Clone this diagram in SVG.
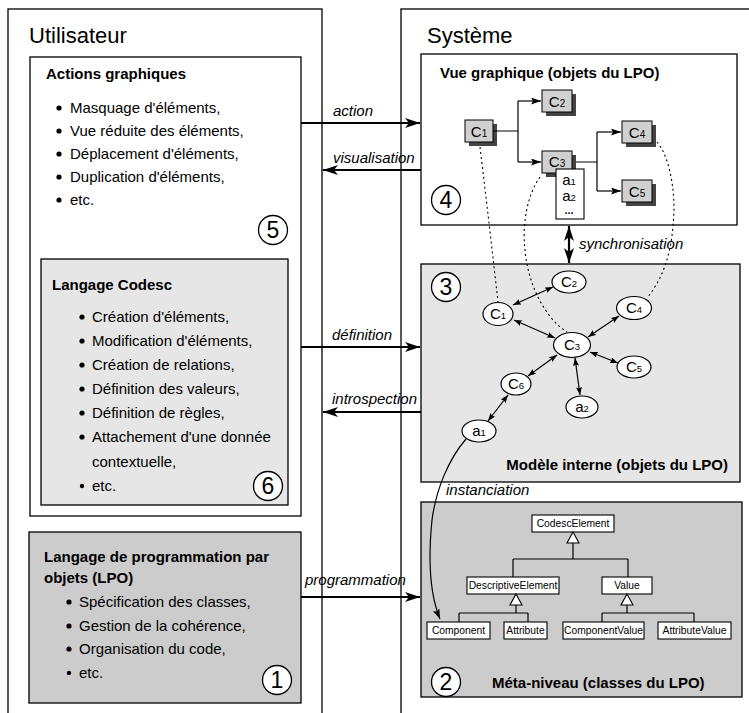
<svg xmlns="http://www.w3.org/2000/svg" width="749" height="713" viewBox="0 0 749 713">
<style>
text{font-family:"Liberation Sans",Arial,Helvetica,sans-serif;fill:#000}
.big{font-size:22px}
.title{font-size:15px;font-weight:bold}
.item{font-size:15px}
.lbl{font-size:15px;font-style:italic}
.num{font-size:23px;text-anchor:middle}
.cls{font-size:10.3px;text-anchor:middle}
.ctext{font-size:15px;text-anchor:middle}
.box{stroke:#000;stroke-width:1.3}
.thick{stroke:#000;stroke-width:2.2;fill:none}
.thin{stroke:#000;stroke-width:1.2;fill:none}
.dot{stroke:#000;stroke-width:1.1;fill:none;stroke-dasharray:2,3}
.ncirc{fill:#fff;stroke:#000;stroke-width:1.3}
.ell{fill:#fff;stroke:#000;stroke-width:1.2}
.cb{fill:#d0d0d0;stroke:#000;stroke-width:1}
.sh{fill:#444}
.cbox{fill:#fff;stroke:#000;stroke-width:1.1}
</style>
<defs>
<marker id="ab" markerUnits="userSpaceOnUse" markerWidth="16" markerHeight="10" refX="15" refY="5" orient="auto-start-reverse"><path d="M0,0 L15,5 L0,10 L4,5 z" fill="#000"/></marker>
<marker id="as" markerUnits="userSpaceOnUse" markerWidth="10" markerHeight="7" refX="10" refY="3.5" orient="auto-start-reverse"><path d="M0,0 L10,3.5 L0,7 L2,3.5 z" fill="#000"/></marker>
<marker id="at" markerUnits="userSpaceOnUse" markerWidth="8" markerHeight="6" refX="8" refY="3" orient="auto-start-reverse"><path d="M0,0 L8,3 L0,6 L1.5,3 z" fill="#000"/></marker>
</defs>

<g id="utilisateur">
<rect class="box" x="8" y="9" width="314" height="720" fill="#fff"/>
<text class="big" x="29" y="43">Utilisateur</text>
</g>
<g id="systeme">
<rect class="box" x="401" y="9" width="360" height="720" fill="#fff"/>
<text class="big" x="427" y="43">Système</text>
</g>

<g id="actions-graphiques">
<rect class="box" x="30" y="57" width="271" height="459" fill="#fff"/>
<text class="title" x="46" y="79">Actions graphiques</text>
<g fill="#000"><circle cx="59" cy="108" r="2.6"/><circle cx="59" cy="131" r="2.6"/><circle cx="59" cy="154" r="2.6"/><circle cx="59" cy="177" r="2.6"/><circle cx="59" cy="200" r="2.6"/></g>
<text class="item" x="70" y="113">Masquage d'éléments,</text>
<text class="item" x="70" y="136">Vue réduite des éléments,</text>
<text class="item" x="70" y="159">Déplacement d'éléments,</text>
<text class="item" x="70" y="182">Duplication d'éléments,</text>
<text class="item" x="70" y="205">etc.</text>
<circle class="ncirc" cx="273" cy="230" r="14.5"/><text class="num" x="273" y="238">5</text>
</g>

<g id="langage-codesc">
<rect class="box" x="41" y="259" width="247" height="246" fill="#e6e6e6"/>
<text class="title" x="52" y="290">Langage Codesc</text>
<g fill="#000"><circle cx="82" cy="317" r="2.6"/><circle cx="82" cy="341" r="2.6"/><circle cx="82" cy="365" r="2.6"/><circle cx="82" cy="389" r="2.6"/><circle cx="82" cy="413" r="2.6"/><circle cx="82" cy="437" r="2.6"/><circle cx="82" cy="486" r="2.2"/></g>
<text class="item" x="92" y="322">Création d'éléments,</text>
<text class="item" x="92" y="346">Modification d'éléments,</text>
<text class="item" x="92" y="370">Création de relations,</text>
<text class="item" x="92" y="394">Définition des valeurs,</text>
<text class="item" x="92" y="418">Définition de règles,</text>
<text class="item" x="92" y="442">Attachement d'une donnée</text>
<text class="item" x="92" y="467">contextuelle,</text>
<text class="item" x="92" y="491">etc.</text>
<circle class="ncirc" cx="268" cy="486" r="14.5"/><text class="num" x="268" y="494">6</text>
</g>

<g id="langage-lpo">
<rect class="box" x="29" y="532" width="272" height="171" fill="#cccccc"/>
<text class="title" x="44" y="562">Langage de programmation par</text>
<text class="title" x="44" y="583">objets (LPO)</text>
<g fill="#000"><circle cx="69" cy="602" r="2.6"/><circle cx="69" cy="626" r="2.6"/><circle cx="69" cy="649" r="2.6"/><circle cx="69" cy="673" r="2.2"/></g>
<text class="item" x="79" y="607">Spécification des classes,</text>
<text class="item" x="79" y="631">Gestion de la cohérence,</text>
<text class="item" x="79" y="654">Organisation du code,</text>
<text class="item" x="79" y="678">etc.</text>
<circle class="ncirc" cx="277" cy="680" r="14.5"/><text class="num" x="277" y="688">1</text>
</g>

<g id="vue-graphique">
<rect class="box" x="421" y="54" width="316" height="171" fill="#fff"/>
<text class="title" x="440" y="78">Vue graphique (objets du LPO)</text>
<circle class="ncirc" cx="446" cy="200" r="14.5"/><text class="num" x="446" y="208">4</text>
</g>
<g id="vc1"><rect class="sh" x="469" y="124" width="28" height="22"/><rect class="cb" x="465" y="120" width="28" height="22"/><text class="ctext" x="479" y="137">C<tspan font-size="10">1</tspan></text></g>
<g id="vc2"><rect class="sh" x="546" y="94" width="30" height="22"/><rect class="cb" x="542" y="90" width="30" height="22"/><text class="ctext" x="557" y="107">C<tspan font-size="10">2</tspan></text></g>
<g id="vc3"><rect class="sh" x="546" y="155" width="30" height="22"/><rect class="cb" x="542" y="151" width="30" height="22"/><text class="ctext" x="557" y="167">C<tspan font-size="10">3</tspan></text></g>
<g id="vc4"><rect class="sh" x="626" y="125" width="30" height="22"/><rect class="cb" x="622" y="121" width="30" height="22"/><text class="ctext" x="637" y="138">C<tspan font-size="10">4</tspan></text></g>
<g id="vc5"><rect class="sh" x="626" y="184" width="30" height="22"/><rect class="cb" x="622" y="180" width="30" height="22"/><text class="ctext" x="637" y="197">C<tspan font-size="10">5</tspan></text></g>
<g id="vattr"><rect class="cbox" x="556" y="169" width="28" height="50"/>
<text class="ctext" x="569" y="185" font-size="14"><tspan x="569" y="185">a<tspan font-size="9.5">1</tspan></tspan><tspan x="569" y="201">a<tspan font-size="9.5">2</tspan></tspan><tspan x="569" y="214" font-size="11" font-weight="bold">...</tspan></text></g>

<g id="modele-interne">
<rect class="box" x="421" y="264" width="319" height="218" fill="#e6e6e6"/>
<text class="title" x="728" y="470" text-anchor="end">Modèle interne (objets du LPO)</text>
<circle class="ncirc" cx="446" cy="287" r="14.5"/><text class="num" x="446" y="295">3</text>
</g>
<g id="mc1"><ellipse class="ell" cx="498" cy="314" rx="15" ry="11.5"/><text class="ctext" x="498" y="319" font-size="14">C<tspan font-size="9.5">1</tspan></text></g>
<g id="mc2"><ellipse class="ell" cx="569" cy="282" rx="17" ry="11"/><text class="ctext" x="569" y="287" font-size="14">C<tspan font-size="9.5">2</tspan></text></g>
<g id="mc3"><ellipse class="ell" cx="572" cy="345" rx="18.5" ry="12.5"/><text class="ctext" x="572" y="350" font-size="14">C<tspan font-size="9.5">3</tspan></text></g>
<g id="mc4"><ellipse class="ell" cx="634" cy="308" rx="17.5" ry="11.5"/><text class="ctext" x="634" y="313" font-size="14">C<tspan font-size="9.5">4</tspan></text></g>
<g id="mc5"><ellipse class="ell" cx="634" cy="367" rx="17" ry="11"/><text class="ctext" x="634" y="372" font-size="14">C<tspan font-size="9.5">5</tspan></text></g>
<g id="mc6"><ellipse class="ell" cx="516" cy="384" rx="15" ry="11"/><text class="ctext" x="516" y="389" font-size="14">C<tspan font-size="9.5">6</tspan></text></g>
<g id="ma2"><ellipse class="ell" cx="582" cy="407" rx="16" ry="11"/><text class="ctext" x="582" y="412" font-size="14">a<tspan font-size="9.5">2</tspan></text></g>
<g id="ma1"><ellipse class="ell" cx="479" cy="431" rx="17" ry="11"/><text class="ctext" x="479" y="436" font-size="14">a<tspan font-size="9.5">1</tspan></text></g>

<g id="meta-niveau">
<rect class="box" x="421" y="502" width="321" height="195" fill="#cccccc"/>
<text class="title" x="492" y="688">Méta-niveau (classes du LPO)</text>
<circle class="ncirc" cx="446" cy="682" r="14.5"/><text class="num" x="446" y="690">2</text>
</g>
<g id="k-codescelement"><rect class="cbox" x="532" y="515" width="82" height="17"/><text class="cls" x="573" y="527">CodescElement</text></g>
<g id="k-descriptive"><rect class="cbox" x="467" y="577" width="92" height="17"/><text class="cls" x="513" y="589">DescriptiveElement</text></g>
<g id="k-value"><rect class="cbox" x="602" y="577" width="50" height="17"/><text class="cls" x="627" y="589">Value</text></g>
<g id="k-component"><rect class="cbox" x="427" y="622" width="63" height="17"/><text class="cls" x="458.5" y="634">Component</text></g>
<g id="k-attribute"><rect class="cbox" x="504" y="622" width="43" height="17"/><text class="cls" x="525.5" y="634">Attribute</text></g>
<g id="k-componentvalue"><rect class="cbox" x="563" y="622" width="81" height="17"/><text class="cls" x="603.5" y="634">ComponentValue</text></g>
<g id="k-attributevalue"><rect class="cbox" x="658" y="622" width="73" height="17"/><text class="cls" x="694.5" y="634">AttributeValue</text></g>

<g id="connectors">
<line class="thick" x1="301" y1="123" x2="420" y2="123" marker-end="url(#ab)"/>
<text class="lbl" x="333" y="116">action</text>
<line class="thick" x1="421" y1="170" x2="323" y2="170" marker-end="url(#ab)"/>
<text class="lbl" x="333" y="163">visualisation</text>
<line class="thick" x1="301" y1="347" x2="420" y2="347" marker-end="url(#ab)"/>
<text class="lbl" x="332" y="340">définition</text>
<line class="thick" x1="421" y1="412" x2="323" y2="412" marker-end="url(#ab)"/>
<text class="lbl" x="332" y="404">introspection</text>
<line class="thick" x1="301" y1="597" x2="420" y2="597" marker-end="url(#ab)"/>
<text class="lbl" x="305" y="585">programmation</text>
<line class="thick" x1="569" y1="226" x2="569" y2="263" marker-start="url(#ab)" marker-end="url(#ab)"/>
<text class="lbl" x="579" y="249">synchronisation</text>
<path class="thin" d="M493,131 H518 M518,101 V162"/>
<line class="thin" x1="518" y1="101" x2="541" y2="101" marker-end="url(#as)"/>
<line class="thin" x1="518" y1="162" x2="541" y2="162" marker-end="url(#as)"/>
<path class="thin" d="M576,162 H597 M597,132 V191"/>
<line class="thin" x1="597" y1="132" x2="621" y2="132" marker-end="url(#as)"/>
<line class="thin" x1="597" y1="191" x2="621" y2="191" marker-end="url(#as)"/>
<path class="dot" d="M480,147 Q490,230 498,302"/>
<path class="dot" d="M540,177 C527,195 522,225 525,250 C528,285 545,318 567,332"/>
<path class="dot" d="M657,142 C672,160 676,200 673,225 C671,255 662,280 647,298"/>
<line class="thin" x1="513" y1="305" x2="553" y2="287" marker-start="url(#at)" marker-end="url(#at)"/>
<line class="thin" x1="514" y1="320" x2="555" y2="338" marker-start="url(#at)" marker-end="url(#at)"/>
<line class="thin" x1="588" y1="337" x2="619" y2="316" marker-start="url(#at)" marker-end="url(#at)"/>
<line class="thin" x1="590" y1="352" x2="618" y2="363" marker-start="url(#at)" marker-end="url(#at)"/>
<line class="thin" x1="557" y1="355" x2="528" y2="376" marker-start="url(#at)" marker-end="url(#at)"/>
<line class="thin" x1="575" y1="358" x2="580" y2="395" marker-start="url(#at)" marker-end="url(#at)"/>
<line class="thin" x1="508" y1="395" x2="488" y2="421" marker-start="url(#at)" marker-end="url(#at)"/>
<path class="thin" d="M466,439 C448,460 436,490 432,520 C428,560 430,595 440,619" marker-end="url(#as)"/>
<text class="lbl" x="446" y="495">instanciation</text>
<path class="thin" d="M573,543 V559 M513,559 H628 M513,559 V577 M628,559 V577"/>
<path d="M573,532 L579,543 L567,543 z" fill="#fff" stroke="#000" stroke-width="1.1"/>
<path class="thin" d="M516,605 V613 M459,613 H528 M459,613 V622 M528,613 V622"/>
<path d="M516,594 L522,605 L510,605 z" fill="#fff" stroke="#000" stroke-width="1.1"/>
<path class="thin" d="M627,605 V613 M602,613 H694 M602,613 V622 M694,613 V622"/>
<path d="M627,594 L633,605 L621,605 z" fill="#fff" stroke="#000" stroke-width="1.1"/>
</g>
</svg>
